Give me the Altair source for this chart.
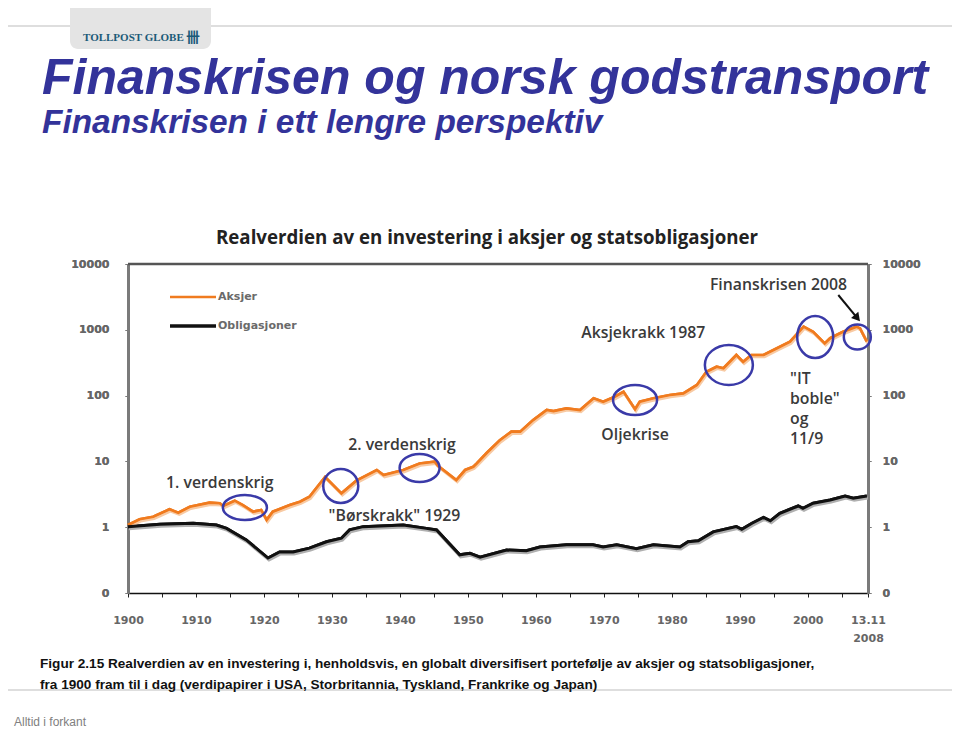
import altair as alt
import pandas as pd

# ---------------- data ----------------
aksjer_year = [1900, 1901.7, 1903.7, 1906.1, 1907.4, 1909.1, 1912.0, 1913.5, 1914.0, 1915.7,
               1916.9, 1918.4, 1919.6, 1920.4, 1921.3, 1923.8, 1925.3, 1926.7, 1929.0, 1931.4,
               1933.6, 1936.6, 1937.6, 1940.5, 1942.9, 1945.1, 1945.6, 1948.3, 1949.6, 1950.8,
               1951.3, 1952.8, 1954.7, 1956.4, 1957.7, 1959.6, 1961.6, 1962.6, 1964.5, 1966.5,
               1968.5, 1969.9, 1971.6, 1972.9, 1974.6, 1975.3, 1977.3, 1979.7, 1981.7, 1983.7,
               1985.1, 1986.6, 1987.6, 1989.5, 1990.5, 1991.7, 1993.5, 1995.4, 1997.4, 1999.4,
               2000.8, 2002.5, 2003.3, 2005.2, 2007.2, 2007.7, 2008.7]
aksjer_value = [1.08, 1.32, 1.44, 1.87, 1.66, 2.05, 2.36, 2.31, 2.10, 2.53,
                2.17, 1.72, 1.83, 1.29, 1.72, 2.17, 2.44, 2.9, 5.8, 3.27,
                5.1, 7.4, 6.2, 7.4, 9.3, 9.9, 8.6, 5.2, 7.4, 8.3,
                9.3, 13.5, 21, 28.3, 28.3, 42.5, 60.4, 58, 64, 60.4,
                91, 80.8, 96, 114, 62, 81, 91, 102, 108, 145,
                230, 275, 260, 414, 326, 414, 414, 520, 660, 1115,
                930, 622, 745, 935, 1115, 1050, 660]

oblig_year = [1900, 1904.7, 1909.6, 1913.0, 1914.5, 1917.4, 1920.6, 1922.3, 1924.3, 1926.7,
              1929.2, 1931.4, 1932.6, 1934.6, 1940.5, 1943.9, 1945.4, 1948.8, 1950.3, 1951.8,
              1955.7, 1958.6, 1960.6, 1964.5, 1968.4, 1969.9, 1971.9, 1974.8, 1977.3, 1981.2,
              1982.4, 1983.9, 1986.1, 1989.5, 1990.3, 1991.8, 1993.5, 1994.5, 1995.9, 1998.6,
              1999.3, 2000.8, 2003.3, 2005.5, 2006.7, 2008.7]
oblig_value = [1.02, 1.11, 1.15, 1.08, 0.96, 0.64, 0.34, 0.42, 0.42, 0.48,
               0.60, 0.68, 0.91, 1.02, 1.08, 0.96, 0.91, 0.38, 0.40, 0.35,
               0.45, 0.44, 0.50, 0.54, 0.54, 0.50, 0.54, 0.47, 0.54, 0.50,
               0.60, 0.62, 0.85, 1.02, 0.93, 1.15, 1.41, 1.25, 1.63, 2.10,
               1.94, 2.31, 2.59, 2.98, 2.75, 2.98]

series_names = ["Aksjer", "Obligasjoner"]
series_colors = ["#f07b1f", "#111111"]

y_ticks = [0.1, 1, 10, 100, 1000, 10000]
x_ticks = [1900, 1905, 1910, 1915, 1920, 1925, 1930, 1935, 1940, 1945, 1950, 1955,
           1960, 1965, 1970, 1975, 1980, 1985, 1990, 1995, 2000, 2005, 2008.87]

# annotations (data coordinates)
note_text = ["1. verdenskrig", "2. verdenskrig", "\"Børskrakk\" 1929", "Oljekrise",
             "Aksjekrakk 1987", "Finanskrisen 2008"]
note_year = [1913.5, 1940.3, 1939.2, 1974.6, 1975.8, 1995.7]
note_value = [4.7, 17.8, 1.48, 25.6, 894, 4800]

it_text = ["\"IT", " boble\"", "og", "11/9"]
it_year = 1997.4
it_value = 228

circle_year = [1917.2, 1931.3, 1942.9, 1974.6, 1988.4, 2001.1, 2007.3]
circle_value = [1.99, 4.23, 7.94, 85.7, 292, 778, 778]
circle_w = [44, 35, 40, 44, 48, 36, 27]
circle_h = [25, 34, 28, 30, 40, 42, 25]

arrow_from = (2004.5, 3380)
arrow_to = (2007.3, 1510)

chart_title = "Realverdien av en investering i aksjer og statsobligasjoner"
slide_title = "Finanskrisen og norsk godstransport"
slide_subtitle = "Finanskrisen i ett lengre perspektiv"
caption = ["Figur 2.15 Realverdien av en investering i, henholdsvis, en globalt diversifisert portefølje av aksjer og statsobligasjoner,",
           "fra 1900 fram til i dag (verdipapirer i USA, Storbritannia, Tyskland, Frankrike og Japan)"]
footer = "Alltid i forkant"
logo = "TOLLPOST GLOBE"

# ---------------- layout ----------------
PL, PT = 128, 264          # page position of plot area
W, H = 740, 329
TOTAL_W, TOTAL_H = 944, 722

def px(x):
    return x - PL

def py(y):
    return y - PT

df_a = pd.DataFrame({"year": aksjer_year, "value": aksjer_value})
df_o = pd.DataFrame({"year": oblig_year, "value": oblig_value})

xscale = alt.Scale(domain=[1900, 2008.87], nice=False, zero=False)
yscale = alt.Scale(type="log", domain=[0.1, 10000], nice=False)

label_font = dict(labelFont="DejaVu Sans", labelFontWeight="bold", labelFontSize=11,
                  labelColor="#666666")

X = alt.X("year:Q", scale=xscale, title=None,
          axis=alt.Axis(values=x_ticks, grid=False, domainColor="#111111", domainWidth=1.5,
                        tickColor="#222222", tickSize=4, labelPadding=17, labelLineHeight=18,
                        labelExpr="datum.value > 2008 ? ['13.11', '2008'] : (datum.value % 10 === 0 ? format(datum.value, 'd') : '')",
                        labelFlush=False, labelOverlap=False, **label_font))

ylabel = "datum.value < 0.5 ? '0' : format(datum.value, 'd')"
Y_left = alt.Y("value:Q", scale=yscale, title=None,
               axis=alt.Axis(orient="left", values=y_ticks, grid=False, labelExpr=ylabel,
                             domainColor="#7a7a7a", domainWidth=3, tickColor="#7a7a7a",
                             tickSize=3, labelPadding=16, **label_font))
Y_right = alt.Y("value:Q", scale=yscale, title=None,
                axis=alt.Axis(orient="right", values=y_ticks, grid=False, labelExpr=ylabel,
                              domainColor="#7a7a7a", domainWidth=3, tickColor="#7a7a7a",
                              tickSize=3, labelPadding=11, **label_font))
Y_none = alt.Y("value:Q", scale=yscale, title=None, axis=None)

one = pd.DataFrame({"k": [0]})

def text_at(txt, x, y, **kw):
    return alt.Chart(pd.DataFrame({"t": [txt]})).mark_text(**kw).encode(
        x=alt.value(x), y=alt.value(y), text="t:N")

# slide frame and tab
frame = alt.Chart(one).mark_rect(fillOpacity=0, stroke="#d4d4d4", strokeWidth=1.5).encode(
    x=alt.value(px(3)), x2=alt.value(px(957)), y=alt.value(py(26)), y2=alt.value(py(690)))
tab = alt.Chart(one).mark_rect(fill="#e4e4e4", cornerRadius=8).encode(
    x=alt.value(px(70)), x2=alt.value(px(211)), y=alt.value(py(-10)), y2=alt.value(py(49)))
logo_t = text_at(logo, px(83), py(38), font="Liberation Serif", fontSize=11, fontWeight="bold",
                 color="#1b5a78", align="left", baseline="middle")
logo_i = text_at("卌", px(186), py(38), font="Noto Sans CJK SC", fontSize=14, fontWeight="bold",
                 color="#1b5a78", align="left", baseline="middle")

title_t = text_at(slide_title, px(42), py(94), font="Liberation Sans", fontSize=50,
                  fontWeight="bold", fontStyle="italic", color="#33339a", align="left",
                  baseline="alphabetic")
sub_t = text_at(slide_subtitle, px(42), py(133), font="Liberation Sans", fontSize=33.4,
                fontWeight="bold", fontStyle="italic", color="#33339a", align="left",
                baseline="alphabetic")
ctitle = text_at(chart_title, px(487), py(244), font="Open Sans", fontSize=18.7, fontWeight="bold",
                 color="#222222", align="center", baseline="alphabetic")
cap_t = alt.Chart(pd.DataFrame({"t": [caption]})).mark_text(
    font="Liberation Sans", fontSize=13.6, fontWeight="bold", color="#111111", align="left",
    baseline="alphabetic", lineHeight=21).encode(x=alt.value(px(40)), y=alt.value(py(668)), text="t")
foot_t = text_at(footer, px(14), py(726), font="Liberation Sans", fontSize=12, color="#808080",
                 align="left", baseline="alphabetic")

# top border of the plot
top_rule = alt.Chart(one).mark_rule(color="#555555", strokeWidth=2.5).encode(
    x=alt.value(0), x2=alt.value(W), y=alt.value(0))

# lines
a_shadow = alt.Chart(df_a).mark_line(color="#f8caa3", strokeWidth=2.5, xOffset=1, yOffset=2).encode(x=X, y=Y_none)
a_line = alt.Chart(df_a).mark_line(color=series_colors[0], strokeWidth=2.7).encode(x=X, y=Y_left)
o_shadow = alt.Chart(df_o).mark_line(color="#b0b0b0", strokeWidth=3, xOffset=1, yOffset=2).encode(x=X, y=Y_none)
o_line = alt.Chart(df_o).mark_line(color=series_colors[1], strokeWidth=3).encode(x=X, y=Y_right)

# legend (manual, inside plot)
leg = []
for i, (name, col) in enumerate(zip(series_names, series_colors)):
    yy = py(297 + 29 * i)
    leg.append(alt.Chart(one).mark_rule(color=col, strokeWidth=2.5 if i == 0 else 3.5).encode(
        x=alt.value(px(170)), x2=alt.value(px(216)), y=alt.value(yy)))
    leg.append(text_at(name, px(218), yy, font="DejaVu Sans", fontSize=11, fontWeight="bold",
                       color="#6a6a6a", align="left", baseline="middle"))

# circles
paths, sizes = [], []
for w, h in zip(circle_w, circle_h):
    if w >= h:
        r = h / w
        paths.append(f"M-1,0A1,{r:.3f},0,1,1,1,0A1,{r:.3f},0,1,1,-1,0Z")
        sizes.append(w * w)
    else:
        r = w / h
        paths.append(f"M-{r:.3f},0A{r:.3f},1,0,1,1,{r:.3f},0A{r:.3f},1,0,1,1,-{r:.3f},0Z")
        sizes.append(h * h)
df_c = pd.DataFrame({"year": circle_year, "value": circle_value, "shape": paths, "size": sizes})
circles = alt.Chart(df_c).mark_point(filled=False, color="#3a3aa8", strokeWidth=2.5, opacity=1).encode(
    x=X, y=Y_none, shape=alt.Shape("shape:N", scale=None), size=alt.Size("size:Q", scale=None))

# annotation texts
df_n = pd.DataFrame({"year": note_year, "value": note_value, "t": note_text})
notes = alt.Chart(df_n).mark_text(font="Open Sans", fontSize=15.8, fontWeight=600, color="#3a3a3a",
                                  align="center", baseline="middle").encode(x=X, y=Y_none, text="t:N")
df_it = pd.DataFrame({"year": [it_year], "value": [it_value], "t": [it_text]})
it_note = alt.Chart(df_it).mark_text(font="Open Sans", fontSize=15.8, fontWeight=600, color="#3a3a3a",
                                     align="left", baseline="top", lineHeight=20).encode(
    x=X, y=Y_none, text="t")

# arrow
df_ar = pd.DataFrame({"year": [arrow_from[0]], "value": [arrow_from[1]],
                      "year2": [arrow_to[0]], "value2": [arrow_to[1]]})
arrow = alt.Chart(df_ar).mark_rule(color="#111111", strokeWidth=2).encode(
    x=X, y=Y_none, x2="year2:Q", y2="value2:Q")
df_head = pd.DataFrame({"year": [arrow_to[0]], "value": [arrow_to[1]]})
head = alt.Chart(df_head).mark_point(shape="triangle-up", filled=True, color="#111111", size=90,
                                     angle=140, opacity=1).encode(x=X, y=Y_none)

chart = alt.layer(
    a_line, o_line, frame, tab, logo_t, logo_i, title_t, sub_t, ctitle, cap_t, foot_t,
    top_rule, a_shadow, o_shadow, a_line, o_line, *leg, circles, notes, it_note, arrow, head
).resolve_axis(y="independent").properties(
    width=W, height=H,
    padding={"left": PL - 8, "top": PT - 8, "right": TOTAL_W - (PL - 8) - W,
             "bottom": TOTAL_H - (PT - 8) - H},
    autosize=alt.AutoSizeParams(type="none"),
    background="white",
).configure_view(stroke=None)

chart.save("out.html", embed_options={"renderer": "svg", "actions": False})
